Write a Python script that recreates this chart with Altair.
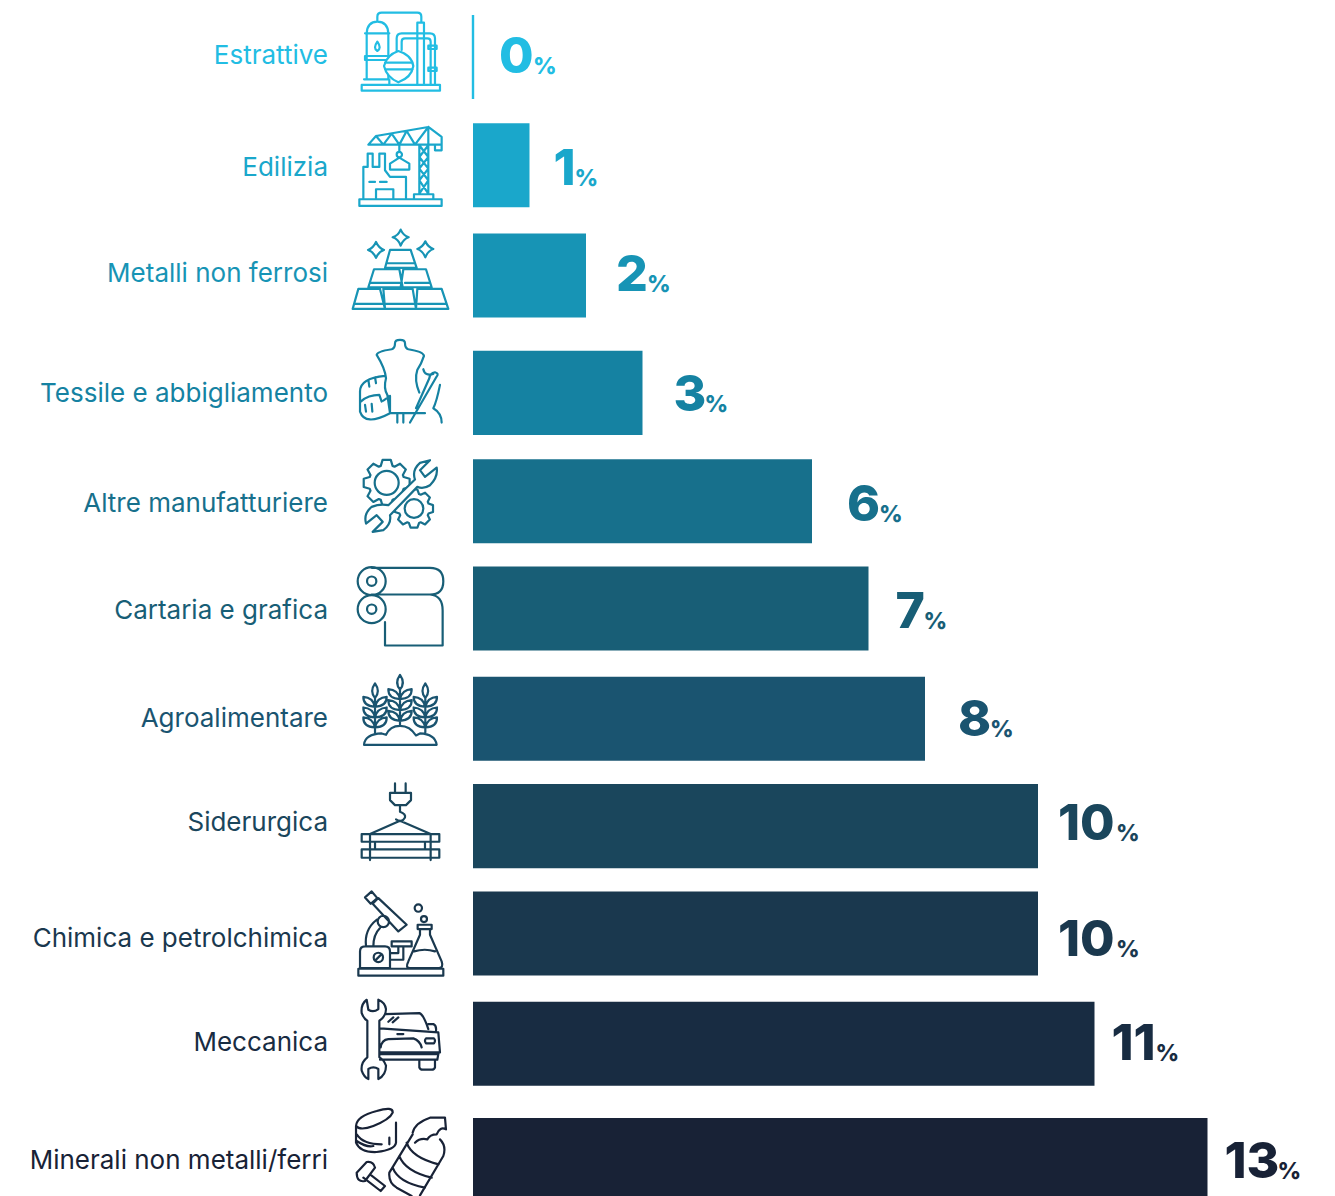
import re, math
import altair as alt
import pandas as pd

sectors = ["Estrattive", "Edilizia", "Metalli non ferrosi", "Tessile e abbigliamento",
           "Altre manufatturiere", "Cartaria e grafica", "Agroalimentare", "Siderurgica",
           "Chimica e petrolchimica", "Meccanica", "Minerali non metalli/ferri"]
shares = [0, 1, 2, 3, 6, 7, 8, 10, 10, 11, 13]
colors = ["#22BDE3", "#1AA7CB", "#1794B5", "#1582A2", "#17708C", "#185E76",
          "#1A5470", "#1A465C", "#1A384E", "#182C42", "#182236"]

# layout constants (pixels)
NUM_DX = [26, 24, 30, 31, 35, 27, 33, 20, 20, 17, 17]
PCT_DX = [60, 45, 61, 62, 67, 55, 65, 78, 78, 61, 70]
BAR_NUDGE = [1, -1, -1, 6, 4, 1, 1, -2, -5, -5, 1]
TEXT_NUDGE = [-1, 1, -4, 6, 6, 2, 0, -6, 0, -7, 1]
FONT = "Inter"


def circle(cx, cy, r):
    k = 0.5523 * r
    return (f"M{cx-r} {cy} C{cx-r} {cy-k} {cx-k} {cy-r} {cx} {cy-r} "
            f"C{cx+k} {cy-r} {cx+r} {cy-k} {cx+r} {cy} "
            f"C{cx+r} {cy+k} {cx+k} {cy+r} {cx} {cy+r} "
            f"C{cx-k} {cy+r} {cx-r} {cy+k} {cx-r} {cy} Z ")


def gear(cx, cy, ro, ri, n):
    pts = []
    for i in range(n):
        a = 2 * math.pi * i / n
        w = math.pi / n
        for da, r in ((-w * 0.85, ri), (-w * 0.45, ro), (w * 0.45, ro), (w * 0.85, ri)):
            pts.append((cx + r * math.cos(a + da), cy + r * math.sin(a + da)))
    return "M" + " L".join(f"{x:.1f} {y:.1f}" for x, y in pts) + " Z "


def stalk(cx, top, base, ys):
    p = f"M{cx} {top} Q{cx-17} {top+24} {cx} {top+44} Q{cx+17} {top+24} {cx} {top} Z M{cx} {top+44} L{cx} {base} "
    for y in ys:
        p += f"M{cx} {y+30} Q{cx-36} {y+28} {cx-35} {y} Q{cx-6} {y+2} {cx} {y+30} "
        p += f"M{cx} {y+30} Q{cx+36} {y+28} {cx+35} {y} Q{cx+6} {y+2} {cx} {y+30} "
    return p


icon_src = [
    # refinery
    (171, "M65 255 L300 255 L300 272 L65 272 Z M80 238 L80 100 Q82 65 112 65 Q143 65 145 100 L145 168 "
          "M75 100 L148 100 M75 168 L148 168 L148 180 L75 180 Z M80 180 L80 238 M145 180 L145 238 M72 238 L148 238 L148 255 "
          "M112 125 Q98 145 112 153 Q126 145 112 125 Z M112 65 L112 50 Q112 38 125 38 L232 38 Q244 38 244 50 L244 68 "
          "M232 255 L232 68 L252 68 L252 255 M170 152 L170 115 Q170 100 185 100 L270 100 Q285 100 285 115 L285 255 "
          "M185 150 L185 125 Q185 115 195 115 L262 115 Q272 115 272 125 L272 255 "
          "M265 137 L290 137 L290 147 L265 147 Z M265 203 L290 203 L290 213 L265 213 Z "),
    # crane
    (495, "M58 597 L305 597 L305 617 L58 617 Z M70 597 L70 500 L83 500 L83 460 L98 460 L98 500 L118 500 L118 460 L135 460 "
          "L135 510 L150 530 L198 530 L198 597 M108 597 L108 567 L160 567 L160 597 M88 545 L105 545 M120 545 L140 545 "
          "M238 435 L238 580 M265 435 L265 580 M238 435 L265 470 L238 505 L265 540 L238 580 M265 435 L238 470 L265 505 L238 540 L265 580 "
          "M222 597 L222 582 L280 582 L280 597 M85 433 L108 407 L265 380 L305 410 L305 433 Z "
          "M108 407 L130 433 L155 400 L178 433 L200 392 L225 433 L265 380 L265 433 M285 433 L285 450 L305 450 L305 433 "
          "M178 433 L178 455 " + circle(178, 463, 8) + "M150 490 L178 472 L208 490 L208 508 L150 508 Z "),
    # gold
    (825, "M182 687 Q190 705 206 710 Q190 715 182 735 Q175 715 158 710 Q175 705 182 687 Z "
          "M108 724 Q116 742 132 748 Q116 753 108 772 Q100 753 84 748 Q100 742 108 724 Z "
          "M256 722 Q264 740 280 745 Q264 750 256 770 Q248 750 232 745 Q248 740 256 722 Z "
          "M150 748 L212 748 L230 802 L135 802 Z M102 806 L178 806 L188 860 L85 860 Z M190 806 L258 806 L275 860 L182 860 Z "
          "M55 865 L120 865 L135 925 L38 925 Z M130 865 L218 865 L228 925 L135 925 Z M232 865 L305 865 L325 925 L228 925 Z "
          "M45 910 L130 910 M138 910 L225 910 M235 910 L320 910 M92 847 L180 847 M195 847 L268 847 M140 788 L222 788 "),
    # tailor
    (189, "M165 40 Q165 30 180 30 Q195 30 195 40 Q195 55 205 58 Q250 65 252 78 Q245 100 232 120 Q222 150 238 188 "
          "M165 40 Q165 55 155 58 Q110 65 110 75 Q135 115 138 145 Q130 175 142 195 L150 250 L255 250 "
          "M60 185 Q60 145 135 138 M60 185 L60 245 Q75 290 150 250 L150 198 L130 212 M62 215 Q85 195 118 195 L125 215 "
          "M210 278 L290 140 Q298 130 285 127 Q270 130 268 145 L228 235 M250 118 Q255 140 280 132 "
          "M300 165 Q290 215 280 235 Q305 250 305 278 M172 252 L172 278 M190 252 L190 278 "
          "M85 150 L88 170 M105 142 L108 160 M75 225 L78 245 M95 222 L97 245 "),
    # gears
    (513, gear(140, 458, 70, 54, 8) + circle(140, 458, 36) + gear(222, 535, 58, 46, 8) + circle(222, 535, 28)),
    # rolls
    (834, "M95 712 L270 712 Q310 712 310 752 Q310 792 270 792 L95 792 " + circle(95, 752, 42) + circle(95, 752, 14)
          + circle(95, 836, 42) + circle(95, 836, 14) + "M270 792 Q308 795 308 840 L308 945 L135 945 L135 875 "),
    # wheat
    (174, "M72 252 L290 252 Q285 220 240 218 L228 224 Q210 195 180 195 Q150 195 138 222 L125 218 Q75 220 72 252 Z "
          + stalk(105, 68, 215, [108, 140, 170]) + stalk(180, 42, 195, [85, 118, 150]) + stalk(256, 68, 215, [108, 140, 170])),
    # crane load
    (498, "M165 370 L165 398 M197 370 L197 398 M150 398 L213 398 L213 420 L198 435 L165 435 L150 420 Z "
          "M180 435 L180 455 Q198 462 195 472 Q185 490 168 478 M180 482 L90 522 M180 482 L272 522 "
          "M65 522 L298 522 L298 545 L65 545 Z M65 568 L298 568 L298 593 L65 593 Z M90 522 L90 600 M272 522 L272 600 "
          "M105 545 L105 568 M255 545 L255 568 "),
    # microscope and flask
    (21, "M75 -87 L95 -105 L112 -85 L92 -68 Z M115 -85 L200 -5 L175 15 L98 -68 Z " + circle(130, -15, 17)
         + "M78 60 Q72 10 110 -20 M100 60 Q100 25 120 5 M150 125 L60 125 L60 75 Q60 60 75 60 L135 60 Q150 60 150 75 Z "
         + circle(115, 93, 14) + "M106 102 L124 84 M155 45 L215 45 L215 60 L155 60 Z M175 60 L175 80 L150 80 M190 60 L190 100 L150 100 "
         + "M240 8 L270 8 L270 25 L305 105 Q312 125 295 125 L210 125 Q195 125 205 105 L240 25 Z M222 75 Q255 65 285 75 "
         + circle(235, -55, 11) + circle(252, -22, 9) + "M233 -5 L275 -5 L275 8 L233 8 Z M55 127 L310 127 L310 148 L55 148 Z "),
    # wrench and car
    (354, "M80 222 Q62 235 65 262 Q72 280 82 285 L82 395 Q62 410 65 435 Q72 455 85 460 L85 430 Q100 420 115 430 L115 460 "
          "Q138 448 138 420 Q132 402 118 395 L118 285 Q138 272 138 250 Q135 230 115 222 L115 250 Q100 262 85 252 Z "
          "M135 265 L238 262 Q250 265 265 310 M120 308 L295 320 L300 380 L118 380 M118 385 L292 385 M120 402 L292 402 L296 380 "
          "M238 405 L238 425 Q240 432 248 432 L275 432 Q283 432 285 425 L285 405 "
          "M122 365 Q125 342 145 340 L220 338 Q240 345 245 365 M258 338 L282 338 Q288 345 282 353 L258 353 Q252 345 258 338 Z "
          "M145 288 L160 275 M158 290 L175 275 M265 295 L280 295 Q290 300 288 315 M172 325 L190 325 "),
    # scrap, can and bolt
    (702, "M48 600 Q50 570 110 555 Q160 540 158 560 Q150 580 100 600 Q60 615 48 600 Z "
          "M48 600 L48 650 Q60 680 110 678 Q165 672 168 650 L168 590 M50 625 Q70 655 125 655 M50 645 Q80 665 100 660 M148 635 L148 655 "
          "M50 740 L80 708 Q100 705 105 725 L75 765 Q50 770 50 740 Z M90 745 L135 780 L122 795 L70 755 "
          "M218 620 Q225 590 270 575 L315 575 L318 610 Q300 600 290 625 Q270 625 262 640 Q240 635 225 650 "
          "M218 625 L148 740 Q145 770 170 785 L215 810 M300 640 Q320 660 310 690 L240 808 "
          "M200 650 Q215 695 296 715 M178 690 Q195 735 275 755 M158 725 Q175 770 255 785 "),
]

# outlines that cover what lies behind them, drawn with a white interior
icon_over = {
    0: "M132 198 Q140 165 175 153 Q215 165 220 198 Q215 232 175 247 Q140 232 132 198 Z M135 188 L218 188 M135 208 L218 208 ",
    4: "M145 525 L225 448 Q215 420 240 398 L270 390 L240 420 L255 440 L290 412 Q295 440 270 465 Q250 478 232 470 "
       "L150 555 Q155 580 130 600 L98 605 L128 575 L110 555 L78 580 Q70 550 95 530 Q120 520 145 525 Z ",
}


def shift(path, cy, cx=180):
    """Centre an icon outline drawn on a 3x grid on its own anchor point."""
    out, idx = [], 0
    for tok in re.findall(r"[A-Za-z]|-?\d+\.?\d*", path):
        if tok.isalpha():
            out.append(tok)
        else:
            out.append(f"{float(tok) - (cx if idx % 2 == 0 else cy):.1f}")
            idx += 1
    return " ".join(out)


df = pd.DataFrame({"sector": sectors, "share": shares})
df["num"] = df["share"].astype(str)
df["origin"] = 0

x_scale = alt.Scale(domain=[-465 / 56.5, (1319 - 465) / 56.5], range=[0, 1319], nice=False, zero=False)
y_scale = alt.Scale(domain=sectors, range=[0, 1199], paddingInner=0.238, paddingOuter=0.054)
X = alt.X("share:Q", scale=x_scale, axis=None)
Y = alt.Y("sector:N", scale=y_scale, axis=None, sort=sectors)

layers = []
for i, (cy, src) in enumerate(icon_src):
    row = df.iloc[[i]]
    col = colors[i]
    layers.append(alt.Chart(row).mark_bar(color=col, yOffset=BAR_NUDGE[i], y2Offset=BAR_NUDGE[i],
                                          stroke=col, strokeWidth=2.4 if shares[i] == 0 else 0).encode(
        x=alt.X("origin:Q", scale=x_scale, axis=None), x2="share:Q", y=Y))
    layers.append(alt.Chart(row).mark_text(align="right", baseline="middle", font=FONT, fontSize=26, color=col,
                                           dy=TEXT_NUDGE[i] + 1).encode(x=alt.value(320), y=Y, text="sector:N"))
    layers.append(alt.Chart(row).mark_point(shape=shift(src, cy), size=0.444, filled=False, opacity=1,
                                            stroke=col, strokeWidth=2.2, strokeJoin="round", strokeCap="round",
                                            yOffset=BAR_NUDGE[i]).encode(x=alt.value(392), y=Y))
    if i in icon_over:
        layers.append(alt.Chart(row).mark_point(shape=shift(icon_over[i], cy), size=0.444, filled=True, opacity=1,
                                                fill="white", stroke=col, strokeWidth=2.2, strokeJoin="round",
                                                strokeCap="round", yOffset=BAR_NUDGE[i]).encode(x=alt.value(392), y=Y))
    layers.append(alt.Chart(row).mark_text(align="left", baseline="middle", font=FONT, fontSize=50, fontWeight=800,
                                           dx=NUM_DX[i], dy=TEXT_NUDGE[i] + 3, color=col).encode(x=X, y=Y, text="num:N"))
    layers.append(alt.Chart(row).mark_text(align="left", baseline="middle", font=FONT, fontSize=23, fontWeight=800,
                                           dx=PCT_DX[i], dy=TEXT_NUDGE[i] + 12, color=col, text="%").encode(x=X, y=Y))

chart = alt.layer(*layers).properties(
    width=1319, height=1188, padding=0,
    autosize=alt.AutoSizeParams(type="none"),
).configure_view(stroke=None)

chart.save("out.html", embed_options={"renderer": "svg", "actions": False})
